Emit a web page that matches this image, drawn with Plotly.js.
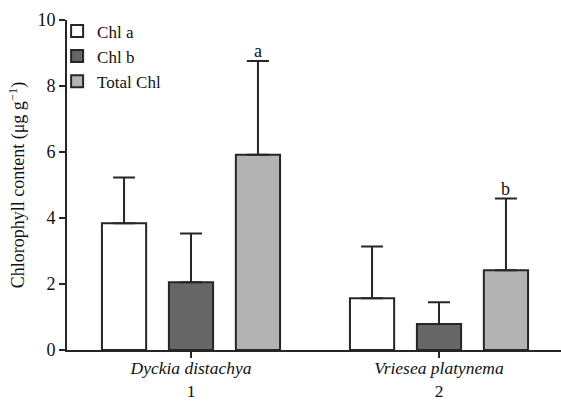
<!DOCTYPE html>
<html>
<head>
<meta charset="utf-8">
<script src="https://cdn.plot.ly/plotly-3.0.1.min.js"></script>
<style>html,body{margin:0;padding:0;background:#fff;}#chart{width:561px;height:403px;}</style>
</head>
<body>
<div id="chart"></div>
<script>
// ---- data ----
const categories = [1, 2];
const categoryNames = ["Dyckia distachya", "Vriesea platynema"];
const seriesNames = ["Chl a", "Chl b", "Total Chl"];
const chlA = [3.84, 1.57];
const chlAErr = [1.39, 1.57];
const chlB = [2.05, 0.79];
const chlBErr = [1.48, 0.66];
const totalChl = [5.92, 2.42];
const totalChlErr = [2.84, 2.17];
const letters = ["a", "b"];
const yTicks = [0, 2, 4, 6, 8, 10];

// ---- styles ----
const fills = ["#ffffff", "#666666", "#b3b3b3"];
const edge = "#262626";
const font = "Liberation Serif, Times New Roman, serif";
const bargap = 0.19, bargroupgap = 0.34;

const values = [chlA, chlB, totalChl];
const errs = [chlAErr, chlBErr, totalChlErr];

const traces = values.map((v, i) => ({
  type: "bar",
  name: seriesNames[i],
  x: categories,
  y: v,
  marker: {color: fills[i], line: {color: edge, width: 2}},
  error_y: {
    type: "data", symmetric: false,
    array: errs[i], arrayminus: v.map(() => 0),
    color: edge, thickness: 2, width: 11
  },
  hoverinfo: "skip"
}));

const slot = (1 - bargap) / 3;
const annotations = categories.map((c, j) => ({
  xref: "x", yref: "y",
  x: c + slot, y: totalChl[j] + totalChlErr[j],
  text: letters[j], showarrow: false,
  yanchor: "bottom", yshift: -2,
  font: {family: font, size: 18, color: "#111"}
}));

const plotW = 561 - 67;
const pxPerCat = 248;

const layout = {
  width: 561, height: 403,
  margin: {l: 67, r: 0, t: 20, b: 53},
  paper_bgcolor: "#fff", plot_bgcolor: "#fff",
  barmode: "group", bargap: bargap, bargroupgap: bargroupgap,
  font: {family: font, size: 18, color: "#111"},
  showlegend: true,
  legend: {
    x: -0.02, y: 1.02, xanchor: "left", yanchor: "top",
    bgcolor: "rgba(0,0,0,0)", font: {family: font, size: 17, color: "#111"},
    itemwidth: 30, tracegroupgap: 0
  },
  xaxis: {
    range: [0.5, 0.5 + plotW / pxPerCat],
    tickvals: categories,
    ticktext: categoryNames.map((n, j) => "<i>" + n + "</i><br>" + categories[j]),
    ticks: "outside", ticklen: 6, tickwidth: 2, tickcolor: edge,
    ticklabelstandoff: -5,
    showline: true, linecolor: edge, linewidth: 2,
    showgrid: false, zeroline: false,
    tickfont: {family: font, size: 17.5, color: "#111"}
  },
  yaxis: {
    range: [0, 10], tickvals: yTicks,
    ticks: "outside", ticklen: 6, tickwidth: 2, tickcolor: edge,
    showline: true, linecolor: edge, linewidth: 2,
    showgrid: false, zeroline: false,
    tickfont: {family: font, size: 18, color: "#111"},
    title: {text: "Chlorophyll content (μg g<sup>−1</sup>)", font: {family: font, size: 18, color: "#111"}, standoff: 8}
  },
  annotations: annotations
};

Plotly.newPlot("chart", traces, layout, {displayModeBar: false, staticPlot: true});
</script>
</body>
</html>
